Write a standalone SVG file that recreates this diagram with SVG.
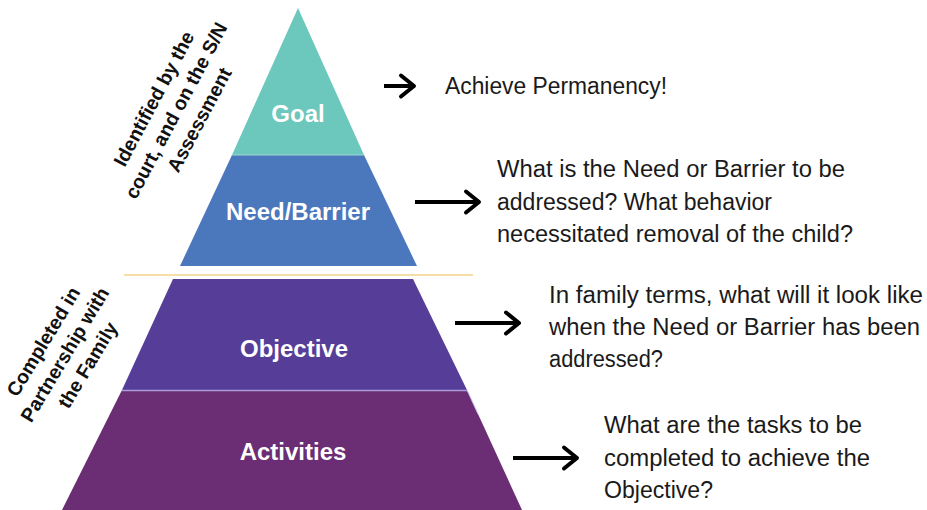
<svg xmlns="http://www.w3.org/2000/svg" width="927" height="510" viewBox="0 0 927 510">
  <defs>
    <marker id="chev" markerUnits="userSpaceOnUse" viewBox="-16 -13 20 26" refX="0" refY="0" markerWidth="20" markerHeight="26" orient="auto" overflow="visible">
      <path d="M-13,-10.5 L0,0 L-13,10.5" fill="none" stroke="#000" stroke-width="4" stroke-linecap="round" stroke-linejoin="round"/>
    </marker>
    <style>
      .lvl { font-family: "Liberation Sans", Arial, sans-serif; font-weight: bold; font-size: 24px; fill: #fff; text-anchor: middle; }
      .desc { font-family: "Liberation Sans", Arial, sans-serif; font-size: 23px; fill: #1a1a1a; }
      .side { font-family: "Liberation Sans", Arial, sans-serif; font-weight: bold; font-size: 19.5px; fill: #111; text-anchor: middle; }
      .arrow { stroke: #000; stroke-width: 4; fill: none; marker-end: url(#chev); }
    </style>
  </defs>
  <rect width="927" height="510" fill="#fff"/>

  <g id="goal">
    <polygon points="298,8 364,155 232,155" fill="#6cc7bd"/>
    <text class="lvl" x="298" y="122">Goal</text>
  </g>
  <g id="need-barrier">
    <polygon points="232,155 364,155 417,266 180,266" fill="#4b77bc"/>
    <line x1="232" y1="155" x2="364" y2="155" stroke="#9fd9d3" stroke-width="1"/>
    <text class="lvl" x="298" y="220">Need/Barrier</text>
  </g>
  <g id="divider">
    <line x1="124" y1="275" x2="473" y2="275" stroke="#f6dfa6" stroke-width="2"/>
  </g>
  <g id="objective">
    <polygon points="173,279 413,279 467,390 122,390" fill="#553d98"/>
    <text class="lvl" x="294" y="357">Objective</text>
  </g>
  <g id="activities">
    <polygon points="122,390 467,390 522,510 62,510" fill="#6b2d73"/>
    <line x1="122" y1="390.5" x2="467" y2="390.5" stroke="#a99ed9" stroke-width="1.5"/>
    <line x1="467" y1="390" x2="478" y2="414" stroke="#c7c0ea" stroke-width="1"/>
    <text class="lvl" x="293" y="460">Activities</text>
  </g>

  <g id="side-top">
    <text class="side" transform="translate(177,108) rotate(-62)">
      <tspan x="0" y="-18">Identified by the</tspan>
      <tspan x="0" y="7">court, and on the S/N</tspan>
      <tspan x="0" y="32">Assessment</tspan>
    </text>
  </g>
  <g id="side-bottom">
    <text class="side" transform="translate(66,352) rotate(-59)">
      <tspan x="0" y="-18">Completed in</tspan>
      <tspan x="0" y="7">Partnership with</tspan>
      <tspan x="0" y="32">the Family</tspan>
    </text>
  </g>

  <g id="connectors">
    <line class="arrow" x1="384" y1="86" x2="414" y2="86"/>
    <line class="arrow" x1="415" y1="202" x2="479" y2="202"/>
    <line class="arrow" x1="455" y1="323" x2="519" y2="323"/>
    <line class="arrow" x1="513" y1="458" x2="577" y2="458"/>
  </g>

  <g id="desc-goal">
    <text class="desc" x="445" y="94" textLength="222" lengthAdjust="spacingAndGlyphs">Achieve Permanency!</text>
  </g>
  <g id="desc-need">
    <text class="desc" x="497" y="177" textLength="348" lengthAdjust="spacingAndGlyphs">What is the Need or Barrier to be</text>
    <text class="desc" x="497" y="210" textLength="275" lengthAdjust="spacingAndGlyphs">addressed? What behavior</text>
    <text class="desc" x="497" y="242" textLength="356" lengthAdjust="spacingAndGlyphs">necessitated removal of the child?</text>
  </g>
  <g id="desc-objective">
    <text class="desc" x="549" y="303" textLength="374" lengthAdjust="spacingAndGlyphs">In family terms, what will it look like</text>
    <text class="desc" x="549" y="335" textLength="371" lengthAdjust="spacingAndGlyphs">when the Need or Barrier has been</text>
    <text class="desc" x="549" y="367" textLength="114" lengthAdjust="spacingAndGlyphs">addressed?</text>
  </g>
  <g id="desc-activities">
    <text class="desc" x="604" y="433" textLength="258" lengthAdjust="spacingAndGlyphs">What are the tasks to be</text>
    <text class="desc" x="604" y="466" textLength="266" lengthAdjust="spacingAndGlyphs">completed to achieve the</text>
    <text class="desc" x="604" y="498" textLength="109" lengthAdjust="spacingAndGlyphs">Objective?</text>
  </g>
</svg>
